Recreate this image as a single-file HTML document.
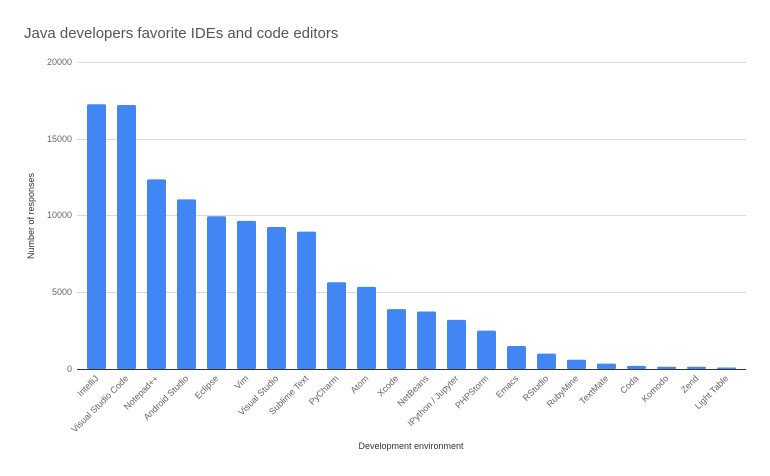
<!DOCTYPE html>
<html><head><meta charset="utf-8"><style>body{margin:0;background:#fff}svg{display:block;font-family:"Liberation Sans",sans-serif}</style></head><body>
<svg width="770" height="476" xmlns="http://www.w3.org/2000/svg">
<text x="24" y="38" font-size="15" fill="#555">Java developers favorite IDEs and code editors</text>
<g stroke="#d9d9d9" stroke-width="1">
<line x1="77" x2="746" y1="62.5" y2="62.5"/><line x1="77" x2="746" y1="139.5" y2="139.5"/><line x1="77" x2="746" y1="215.5" y2="215.5"/><line x1="77" x2="746" y1="292.5" y2="292.5"/></g>
<g font-size="9" fill="#666" text-anchor="end">
<text x="72" y="65">20000</text><text x="72" y="142">15000</text><text x="72" y="218">10000</text><text x="72" y="295">5000</text><text x="72" y="372">0</text></g>
<text transform="translate(34,216) rotate(-90)" font-size="9" fill="#333" text-anchor="middle">Number of responses</text>
<text x="411" y="449" font-size="9" fill="#333" text-anchor="middle">Development environment</text>
<g id="bars" fill="#4285f4"></g>
<line x1="77" x2="746" y1="369.5" y2="369.5" stroke="#333" stroke-width="1"/>
<g id="labels" font-size="9" fill="#666" text-anchor="end"></g>
</svg>
<script>
var d=[["IntelliJ",17250],["Visual Studio Code",17200],["Notepad++",12350],["Android Studio",11050],["Eclipse",9950],["Vim",9650],["Visual Studio",9250],["Sublime Text",8950],["PyCharm",5650],["Atom",5350],["Xcode",3900],["NetBeans",3750],["IPython / Jupyter",3200],["PHPStorm",2500],["Emacs",1500],["RStudio",1000],["RubyMine",600],["TextMate",350],["Coda",200],["Komodo",150],["Zend",150],["Light Table",100]];
var b=document.getElementById("bars"),l=document.getElementById("labels"),ns="http://www.w3.org/2000/svg";
d.forEach(function(e,i){var x=87+30*i,h=e[1]/20000*307;
var r=document.createElementNS(ns,"rect");r.setAttribute("x",x);r.setAttribute("y",369-h);r.setAttribute("width",19);r.setAttribute("height",h);r.setAttribute("rx",1.5);b.appendChild(r);
var t=document.createElementNS(ns,"text");var cx=x+12,cy=379;t.setAttribute("transform","translate("+cx+","+cy+") rotate(-45)");t.textContent=e[0];l.appendChild(t);});
</script>
</body></html>
